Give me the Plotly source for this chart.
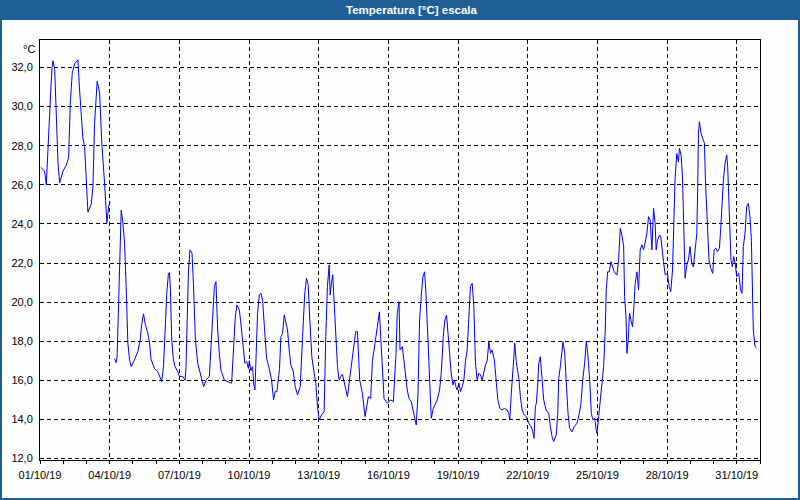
import pandas as pd
import plotly.graph_objects as go

# hours since 2019-10-01 00:00 and temperature [°C]; None marks a data gap
hours = [0.7, 3.1, 4.8, 6.5, 7.5, 8.3, 10.0, 11.0, 12.4, 13.4, 15.2, 16.8, 18.6, 20.3, 23.7, 27.1, 29.6, 31.3, 33.3, 35.8,
         39.2, 40.9, 42.6, 44.3, 46.1, 47.8, 49.5, 52.9, 54.7, 56.4, 58.1, 59.1, 61.6, 63.9, 66.7, 69.1, 70.9, 72.5, 74.8,
         77.0, 78.7, 79.7, 80.4, 81.5, 82.2, 83.2, 83.9, 85.6, 87.4, 89.0, 90.8, 92.5, 94.2, 97.7, 101.1, 103.5, 105.2,
         107.0, 108.6, 111.4, 113.1, 114.8, 118.3, 121.7, 123.8, 124.5, 125.8, 127.6, 129.2, 131.0, 132.7, 133.8, 134.8,
         136.1, 137.9, 139.5, 142.3, 144.1, 147.5, 149.9, 150.9, 151.9, 153.4, 155.0, 157.1, 158.5, 160.6, 163.0, 165.3,
         167.4, 169.1, 171.5, 175.0, 176.7, 178.4, 180.2, 181.8, 183.6, 185.3, 187.0, 190.5, 193.9, 198.0, 200.1, 201.8,
         203.5, 206.0, 207.6, 209.4, 211.7, 213.8, 215.3, 216.3, 217.9, 219.7, 220.7, 222.1, 223.5, 224.8, 226.6, 228.2,
         230.0, 231.7, 234.1, 236.9, 239.3, 241.3, 243.1, 244.8, 246.2, 247.5, 248.9, 250.6, 252.4, 254.0, 255.8, 257.5,
         259.2, 261.7, 263.7, 266.1, 268.9, 271.3, 273.6, 275.4, 277.1, 278.8, 280.9, 283.3, 285.0, 286.7, 288.5, 290.9,
         293.6, 295.3, 297.0, 298.8, 299.8, 301.2, 302.5, 304.0, 305.6, 307.4, 309.1, 310.8, 312.5, 314.3, 315.9, 317.7,
         319.4, 321.8, 324.6, 326.2, 328.0, 329.0, 330.4, 333.1, 334.9, 335.9, 337.6, 339.3, 341.7, 343.5, 345.2, 346.9,
         348.6, 350.7, 352.0, 353.8, 355.5, 358.9, 362.3, 365.1, 366.5, 367.9, 369.2, 370.6, 371.0, 372.0, 374.4, 376.1,
         377.8, 379.5, 381.3, 383.7, 385.4, 387.1, 388.8, 390.6, 392.2, 394.0, 395.7, 397.4, 398.8, 400.9, 402.6, 404.3,
         406.4, 408.1, 410.5, 412.9, 414.6, 416.7, 418.4, 420.1, 421.5, 423.2, 424.9, 426.7, 428.3, 429.8, 431.1, 432.9,
         434.5, 436.3, 438.0, 439.7, 441.4, 443.2, 444.8, 446.6, 448.3, 450.0, 451.8, 453.5, 455.2, 456.9, 458.7, 460.3,
         462.1, 463.8, 465.5, 467.2, 469.6, 471.3, 473.1, 475.2, 477.5, 479.9, 482.7, 484.4, 485.5, 486.8, 488.2, 489.6,
         490.6, 492.0, 493.7, 494.8, 496.4, 498.2, 500.5, 502.6, 505.1, 507.4, 509.2, 510.5, 511.9, 512.9, 514.4, 515.4,
         517.0, 518.8, 520.5, 522.9, 525.7, 527.4, 529.1, 530.8, 533.5, 535.0, 536.0, 537.7, 538.7, 540.4, 542.2, 543.8,
         545.6, 547.3, 549.7, 552.1, 554.9, 557.3, 559.0, 560.8, 562.8, 564.5, 566.0, 568.0, 569.7, 571.4, 573.2, 574.5,
         575.5, 577.3, 578.9, 580.7, 582.4, 584.1, 585.1, 586.6, 588.2, 590.0, 591.7, 593.4, 596.1, 597.9, 599.6, 601.3,
         603.1, 604.1, 605.5, 606.5, 607.8, 609.2, 610.6, 612.3, 613.7, 615.0, 616.8, 618.5, 620.2, 621.9, 623.7, 625.3,
         627.1, 628.8, 630.5, 632.3, 634.0, 635.6, 636.7, 638.1, 640.2, 641.5, 642.9, 644.3, 646.0, 648.4, 650.1, 651.8,
         653.6, 654.6, 656.2, 658.0, 659.7, 660.8, 662.5, 663.9, 664.9, 666.6, 668.3, 670.1, 671.7, 673.5, 675.2, 676.9,
         678.7, 679.7, 680.4, 681.4, 683.1, 684.8, 686.6, 687.6, 688.9, 690.0, 691.3, 693.1, 695.2, 696.6, 698.3, 700.0,
         702.1, 703.4, 704.8, 706.2, 707.9, 709.6, 710.6, 712.4, 714.0, 715.5, 716.8, 718.6, 719.9, 722.0, 724.0, 725.4,
         726.8, 728.5, 730.2, 732.0, 733.6, 735.1, 736.4, 737.1, 738.8, 740.5]

temps = [26.9, 26.8, 26.7, 26.0, 26.9, 28.3, 29.5, 30.7, 32.0, 32.35, 31.9, 30.0, 27.1, 26.1, 26.7, 27.0, 27.4, 30.2, 31.7, 32.2,
         32.4, 30.85, 29.5, 28.4, 27.95, 26.1, 24.6, 25.0, 25.9, 29.15, 31.0, 31.3, 30.7, 28.1, 26.1, 24.06, 24.9, 25.1, None,
         17.1, 16.9, 17.2, 18.6, 20.3, 21.5, 23.2, 24.7, 24.1, 23.0, 20.8, 17.9, 17.05, 16.7, 17.05, 17.46, 18.06, 18.9,
         19.4, 18.9, 18.4, 17.97, 17.05, 16.6, 16.44, 16.2, 16.1, 15.93, 16.7, 18.74, 20.45, 21.47, 21.5, 20.6,
         18.06, 17.05, 16.7, 16.44, 16.2, 16.2, 16.0, 16.7, 19.1, 21.6, 22.67, 22.5, 21.0, 18.06, 16.87, 16.44,
         16.0, 15.67, 16.0, 16.2, 17.7, 19.25, 20.8, 21.05, 18.57, 17.38, 16.5, 16.0, 15.93, 15.85, 17.7, 19.25,
         19.85, 19.6, 18.9, 17.9, 16.87, 16.95, 16.6, 17.0, 16.5, 16.7, 15.85, 15.5, 17.55, 19.43, 20.36, 20.45,
         20.1, 18.9, 17.13, 16.6, 16.0, 15.0, 15.42, 15.42, 16.0, 16.6, 18.23, 18.4, 19.34, 18.9, 18.57, 17.55,
         16.78, 16.44, 15.67, 15.25, 15.67, 18.23, 20.45, 21.22, 20.9, 19.08, 17.2, 16.36, 15.85, 14.65, 13.97, 14.22,
         14.4, 18.23, 20.8, 21.9, 20.36, 21.0, 21.4, 19.94, 18.57, 16.7, 16.0, 16.2, 16.3, 15.93, 15.5, 15.16,
         15.85, 16.7, 17.9, 18.49, 18.49, 17.0, 16.0, 15.34, 14.48, 14.14, 14.65, 15.16, 15.07, 17.0, 17.55, 18.06,
         18.74, 19.5, 18.23, 16.0, 15.07, 14.82, 15.0, 14.9, 16.0, 17.38, 19.43, 19.94, 20.02, 17.55, 17.72, 17.0,
         16.2, 15.5, 15.07, 14.9, 14.48, 14.05, 13.71, 15.34, 19.08, 20.36, 21.3, 21.55, 20.45, 18.06, 15.5, 14.05,
         14.56, 14.73, 15.0, 15.5, 16.36, 18.23, 19.08, 19.34, 18.4, 17.72, 16.36, 15.76, 16.0, 15.67, 15.5, 15.85,
         15.42, 15.67, 16.0, 17.0, 17.55, 19.25, 20.8, 20.96, 19.77, 16.87, 16.0, 16.36, 16.27, 16.0, 16.5, 16.78,
         17.0, 17.97, 17.38, 17.55, 17.0, 16.0, 15.0, 14.56, 14.48, 14.56, 14.48, 14.3, 13.97, 15.16, 16.2, 17.38,
         17.9, 17.0, 16.5, 16.08, 15.16, 14.48, 14.22, 14.14, 13.8, 13.63, 13.37, 13.03, 14.65, 14.82, 15.85, 16.87,
         17.2, 16.0, 15.0, 14.48, 14.3, 13.63, 13.12, 12.86, 13.2, 14.3, 16.08, 16.7, 17.2, 17.97, 17.38, 16.0,
         14.3, 13.54, 13.37, 13.63, 13.8, 14.3, 14.82, 16.0, 16.87, 17.97, 17.38, 16.0, 14.3, 13.97, 14.05, 13.54,
         13.29, 14.14, 15.0, 15.76, 16.7, 18.57, 20.62, 21.55, 21.55, 22.07, 21.8, 21.55, 21.38, 22.16, 23.77, 23.43,
         22.84, 20.28, 19.25, 17.38, 18.06, 19.43, 19.08, 18.74, 19.77, 20.96, 21.55, 20.62, 22.67, 22.93, 22.67, 23.0,
         23.5, 24.37, 24.2, 22.67, 24.8, 24.03, 22.67, 23.17, 23.43, 23.34, 22.84, 22.07, 21.39, 21.47, 20.79, 20.53,
         21.64, 24.03, 26.25, 27.6, 27.17, 27.87, 27.5, 26.4, 23.86, 21.22, 21.9, 22.16, 22.84, 21.98, 21.8, 22.67,
         23.5, 26.08, 28.64, 29.23, 28.64, 28.38, 28.13, 26.25, 24.54, 23.17, 22.16, 21.73, 21.47, 22.67, 22.76, 22.58,
         22.76, 23.76, 25.05, 26.25, 27.1, 27.53, 26.93, 24.2, 22.16, 21.8, 22.33, 21.9, 21.3, 21.47, 20.62, 20.45,
         22.84, 23.5, 24.88, 25.05, 24.37, 23.17, 20.79, 18.57, 17.72, 17.64]

title_text = "Temperatura [°C] escala"
unit_text = "°C"

t0 = pd.Timestamp("2019-10-01 00:00")
times = [t0 + pd.Timedelta(hours=h) for h in hours]

BAR = "#1f5f96"
FONT = "Liberation Sans, Arial, sans-serif"

fig = go.Figure()
fig.add_trace(go.Scatter(x=times, y=temps, mode="lines",
                         line=dict(color="#0000ff", width=1), connectgaps=False,
                         hoverinfo="skip"))

W, H = 800, 500
L, R, T, B = 40, 40, 40, 40
pw, ph = W - L - R, H - T - B

def px_x(px):
    return (px - L) / pw

def px_y(py):
    return (H - B - py) / ph

shapes = [
    # title bar
    dict(type="rect", xref="paper", yref="paper", x0=px_x(0), x1=px_x(W), y0=px_y(20), y1=px_y(0),
         fillcolor=BAR, line=dict(width=0), layer="above"),
    # outer frame
    dict(type="rect", xref="paper", yref="paper", x0=px_x(1), x1=px_x(W - 1), y0=px_y(H - 1), y1=px_y(1),
         line=dict(color=BAR, width=2), fillcolor="rgba(0,0,0,0)", layer="above"),
]

fig.update_layout(
    width=W, height=H,
    margin=dict(l=L, r=R, t=T, b=B),
    paper_bgcolor="#fdfefd", plot_bgcolor="#fdfefd",
    separators=",.",
    showlegend=False,
    font=dict(family=FONT, size=11, color="#000000"),
    shapes=shapes,
    annotations=[
        dict(text="<b>" + title_text + "</b>", xref="paper", yref="paper", x=px_x(412), y=px_y(10),
             xanchor="center", yanchor="middle", showarrow=False,
             font=dict(family=FONT, size=11.5, color="#ffffff")),
        dict(text=unit_text, xref="paper", yref="paper", x=0, y=1, xanchor="right", yanchor="top",
             xshift=-3, yshift=-1, showarrow=False, font=dict(family=FONT, size=11, color="#000000")),
    ],
)

fig.update_xaxes(
    type="date",
    range=[t0, pd.Timestamp("2019-11-01 00:00")],
    tick0=t0, dtick=3 * 86400000, tickformat="%d/%m/%y",
    showgrid=True, gridcolor="#000000", griddash="4px,3px", gridwidth=1,
    showline=True, linecolor="#000000", linewidth=1, mirror=True,
    ticks="outside", ticklen=3, tickcolor="#000000",
    minor=dict(dtick=86400000, ticks="outside", ticklen=3, tickcolor="#000000", showgrid=False),
    ticklabelstandoff=2,
    zeroline=False, fixedrange=True,
)
fig.update_yaxes(
    range=[11.92, 33.41],
    tick0=12, dtick=2, tickformat=".1f",
    showgrid=True, gridcolor="#000000", griddash="4px,3px", gridwidth=1,
    showline=True, linecolor="#000000", linewidth=1, mirror=True,
    ticks="", ticklabelstandoff=4,
    zeroline=False, fixedrange=True,
)

fig.write_html("out.html", config={"displayModeBar": False},
               post_script="document.body.style.margin='0';document.body.style.overflow='hidden';")
